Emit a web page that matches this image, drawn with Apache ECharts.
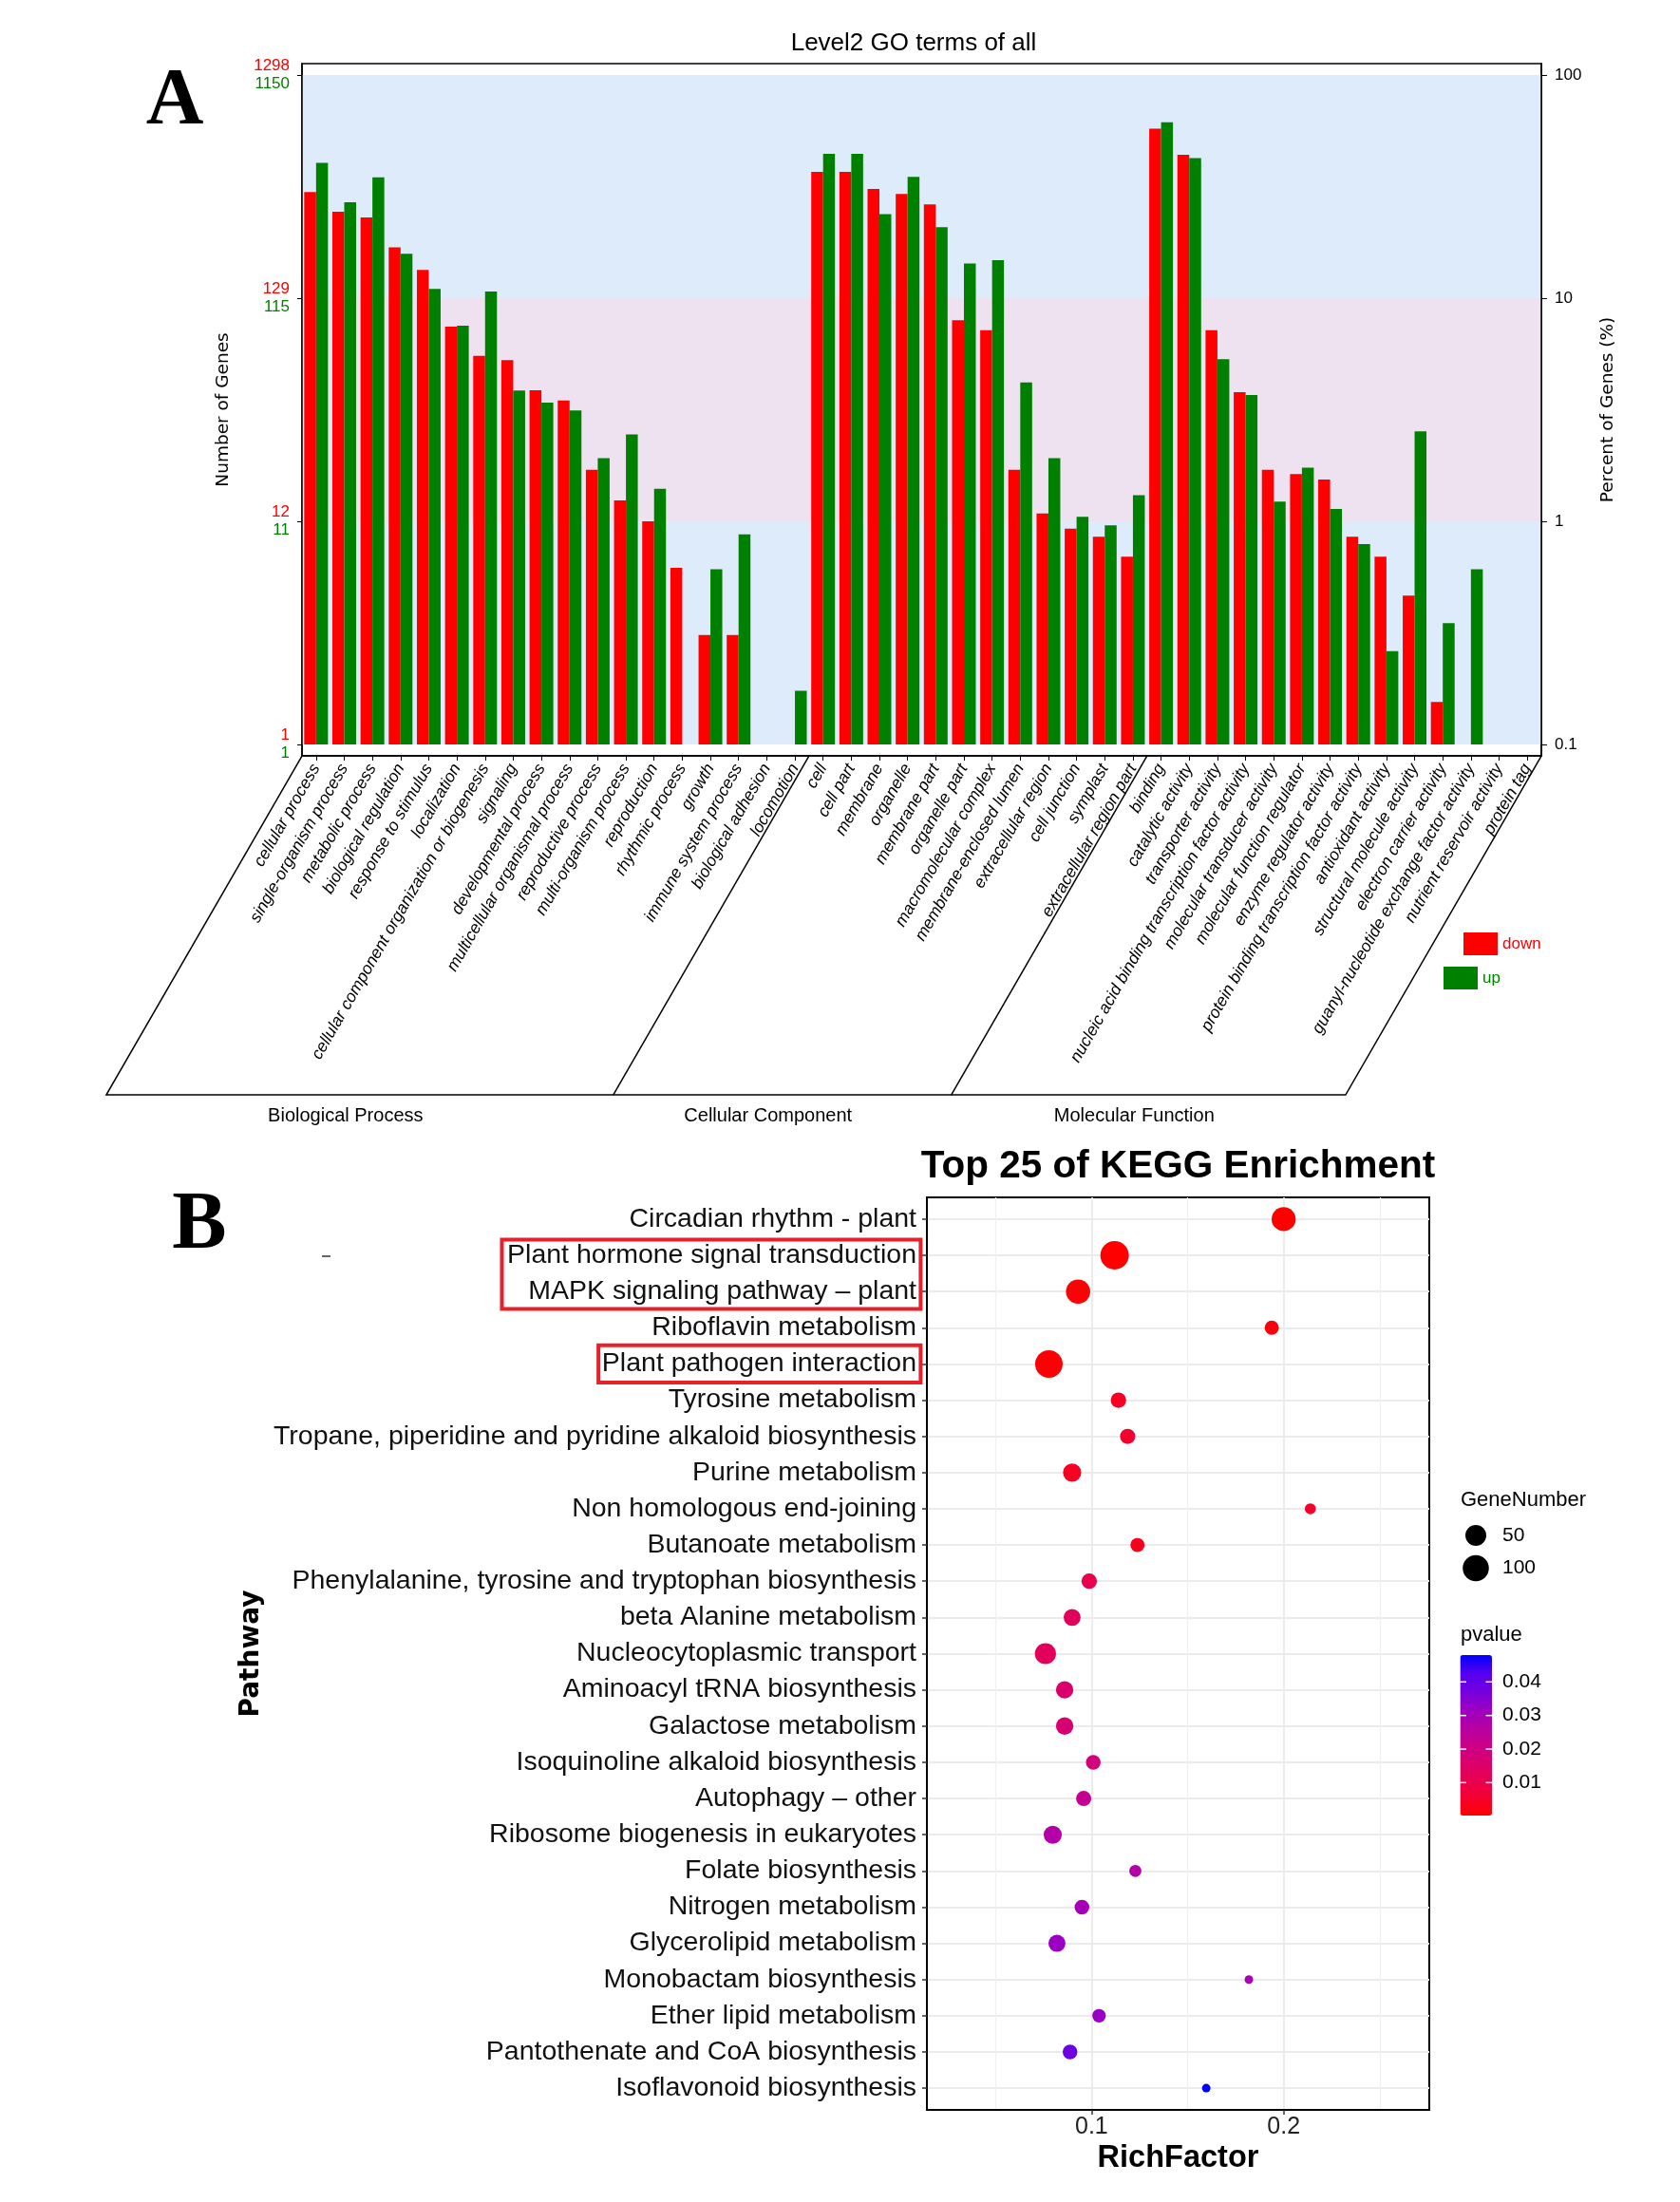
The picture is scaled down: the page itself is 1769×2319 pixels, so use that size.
<!DOCTYPE html>
<html><head><meta charset="utf-8">
<script src="https://cdn.jsdelivr.net/npm/echarts@6/dist/echarts.min.js"></script>
<style>html,body{margin:0;padding:0;background:#fff}#c{width:1769px;height:2319px}</style>
</head><body><div id="c"></div>
<script>
// ---------------- Panel A data (percent of genes) ----------------
const goTerms = ['cellular process','single-organism process','metabolic process','biological regulation','response to stimulus','localization','cellular component organization or biogenesis','signaling','developmental process','multicellular organismal process','reproductive process','multi-organism process','reproduction','rhythmic process','growth','immune system process','biological adhesion','locomotion',
'cell','cell part','membrane','organelle','membrane part','organelle part','macromolecular complex','membrane-enclosed lumen','extracellular region','cell junction','symplast','extracellular region part',
'binding','catalytic activity','transporter activity','nucleic acid binding transcription factor activity','molecular transducer activity','molecular function regulator','enzyme regulator activity','protein binding transcription factor activity','antioxidant activity','structural molecule activity','electron carrier activity','guanyl-nucleotide exchange factor activity','nutrient reservoir activity','protein tag'];
const goDown = [29.9,24.4,23.0,16.9,13.4,7.46,5.51,5.28,3.87,3.48,1.70,1.24,1.00,0.619,0.309,0.309,null,null,
36.8,36.8,30.9,29.3,26.3,7.96,7.19,1.70,1.085,0.927,0.852,0.694,
57.5,43.9,7.19,3.79,1.70,1.63,1.54,0.852,0.694,0.464,0.155,null,null,null];
const goUp = [40.4,26.9,34.8,15.8,11.0,7.53,10.7,3.86,3.40,3.14,1.92,2.45,1.40,null,0.61,0.875,null,0.174,
44.3,44.3,23.8,35.0,20.8,14.3,14.8,4.19,1.92,1.047,0.96,1.31,
61.4,42.4,5.33,3.68,1.225,1.74,1.136,0.79,0.262,2.53,0.350,0.61,null,null];
const goGroups = ['Biological Process','Cellular Component','Molecular Function'];
const goGroupStart = [0,18,30];
const pctTicks = [0.1,1,10,100];
const pctTickLabels = ['0.1','1','10','100'];
const downTickLabels = ['1','12','129','1298'];
const upTickLabels = ['1','11','115','1150'];

// ---------------- Panel B data (KEGG) ----------------
const keggPathways = ['Circadian rhythm - plant','Plant hormone signal transduction','MAPK signaling pathway \u2013 plant','Riboflavin metabolism','Plant pathogen interaction','Tyrosine metabolism','Tropane, piperidine and pyridine alkaloid biosynthesis','Purine metabolism','Non homologous end-joining','Butanoate metabolism','Phenylalanine, tyrosine and tryptophan biosynthesis','beta Alanine metabolism','Nucleocytoplasmic transport','Aminoacyl tRNA biosynthesis','Galactose metabolism','Isoquinoline alkaloid biosynthesis','Autophagy \u2013 other','Ribosome biogenesis in eukaryotes','Folate biosynthesis','Nitrogen metabolism','Glycerolipid metabolism','Monobactam biosynthesis','Ether lipid metabolism','Pantothenate and CoA biosynthesis','Isoflavonoid biosynthesis'];
const keggRichFactor = [0.200,0.112,0.093,0.1938,0.0778,0.114,0.1188,0.0899,0.2139,0.1239,0.0988,0.0899,0.076,0.086,0.086,0.1009,0.0959,0.0798,0.1228,0.095,0.082,0.1819,0.1039,0.0888,0.1597];
const keggGeneNumber = [78,128,80,12,116,17,16,32,4,12,17,24,52,27,27,14,16,31,6,14,25,2,10,14,2];
const keggPvalue = [0.0002,0.0003,0.0008,0.0015,0.0005,0.004,0.005,0.004,0.005,0.003,0.011,0.013,0.013,0.016,0.017,0.019,0.023,0.027,0.027,0.030,0.032,0.029,0.032,0.038,0.048];
const richTicks = [0.1,0.2];
const richMinorTicks = [0.05,0.15,0.25];
const pvalueTicks = [0.01,0.02,0.03,0.04];
const geneLegend = [50,100];
const highlightRows = [[1,2],[4,4]];

// ---------------- styling ----------------
const FS = 'Liberation Sans, Arial, Helvetica, sans-serif';
const DV = 'DejaVu Sans, Verdana, sans-serif';
const RED = '#FF0000', GREEN = '#008000';
const BAND_BLUE = '#DEEBFB', BAND_PINK = '#EEE2F0';
const GRIDC = '#EBEBEB';
const gridA = {left:318, top:67, width:1305, height:729};
const gridB = {left:976, top:1261, width:529, height:961};
const pvalColors = ['#FF0000','#F40031','#E80050','#DA006C','#CA0089','#B500A5','#9A00C3','#7300E0','#5400F0','#0000FF'];
const LABEL_FS = 28.5;

const nMin = Math.min(...keggGeneNumber), nMax = Math.max(...keggGeneNumber);
const sizeOf = n => 9 + 21*Math.sqrt(Math.max(0,(n-nMin))/(nMax-nMin));
const pMin = Math.min(...keggPvalue), pMax = Math.max(...keggPvalue);

function tickIndex(v){ for (let i=0;i<pctTicks.length;i++){ if (Math.abs(Math.log10(v)-Math.log10(pctTicks[i]))<1e-6) return i; } return -1; }

const chart = echarts.init(document.getElementById('c'));

const option = {
  backgroundColor:'#fff',
  animation:false,
  grid:[
    Object.assign({show:true, borderColor:'#000', borderWidth:1.5, backgroundColor:'transparent'}, gridA),
    Object.assign({show:true, borderColor:'#000', borderWidth:2, backgroundColor:'transparent'}, gridB)
  ],
  legend:[
    {data:[{name:'down', textStyle:{color:RED}}], left:1541, top:982, itemWidth:36, itemHeight:24, padding:0, icon:'rect', selectedMode:false, textStyle:{fontFamily:FS, fontSize:17}},
    {data:[{name:'up', textStyle:{color:GREEN}}], left:1520, top:1018, itemWidth:36, itemHeight:24, padding:0, icon:'rect', selectedMode:false, textStyle:{fontFamily:FS, fontSize:17}}
  ],
  xAxis:[
    {type:'category', gridIndex:0, data:goTerms, boundaryGap:true,
     axisLine:{show:true, onZero:false, lineStyle:{color:'#000', width:1.5}},
     axisTick:{show:true, alignWithLabel:true, length:5, lineStyle:{color:'#000'}},
     axisLabel:{interval:0, rotate:60, fontStyle:'italic', fontSize:17.5, fontFamily:FS, color:'#000', margin:10},
     splitLine:{show:false}},
    {type:'value', gridIndex:1, min:0.0143, max:0.2758, position:'bottom',
     axisLine:{show:true, onZero:false, lineStyle:{color:'#000', width:2}},
     axisTick:{show:true, customValues:richTicks, length:5, lineStyle:{color:'#333', width:1.5}},
     axisLabel:{customValues:richTicks, formatter:v=>v.toFixed(1), fontSize:25, fontFamily:FS, color:'#222', margin:6},
     splitLine:{show:false},
     name:'RichFactor', nameLocation:'middle', nameGap:35,
     nameTextStyle:{fontFamily:FS, fontWeight:'bold', fontSize:32.5, color:'#000'}}
  ],
  yAxis:[
    {type:'log', gridIndex:0, position:'left', logBase:10, min:0.0889, max:112.5, startValue:0.1,
     axisLine:{show:true, onZero:false, lineStyle:{color:'#000', width:1.5}},
     axisTick:{show:true, customValues:pctTicks, length:5, lineStyle:{color:'#000'}},
     axisLabel:{customValues:pctTicks, margin:13, formatter:v=>{const i=tickIndex(v); return i<0?'':'{r|'+downTickLabels[i]+'}\n{g|'+upTickLabels[i]+'}';},
       rich:{r:{color:RED, fontSize:17, fontFamily:FS, lineHeight:19, align:'right'}, g:{color:GREEN, fontSize:17, fontFamily:FS, lineHeight:19, align:'right'}}},
     splitLine:{show:false},
     name:'Number of Genes', nameLocation:'middle', nameGap:73,
     nameTextStyle:{fontFamily:DV, fontSize:18.5, color:'#000'}},
    {type:'log', gridIndex:0, position:'right', logBase:10, min:0.0889, max:112.5,
     axisLine:{show:true, onZero:false, lineStyle:{color:'#000', width:1.5}},
     axisTick:{show:true, customValues:pctTicks, length:6, lineStyle:{color:'#000'}},
     axisLabel:{customValues:pctTicks, margin:14, formatter:v=>{const i=tickIndex(v); return i<0?'':pctTickLabels[i];}, fontSize:17, fontFamily:FS, color:'#000'},
     splitLine:{show:false},
     name:'Percent of Genes (%)', nameLocation:'middle', nameGap:61, nameRotate:90,
     nameTextStyle:{fontFamily:DV, fontSize:18.5, color:'#000'}},
    {type:'value', gridIndex:1, inverse:true, min:-0.6, max:keggPathways.length-1+0.6, position:'left',
     axisLine:{show:true, onZero:false, lineStyle:{color:'#000', width:2}},
     axisTick:{show:true, customValues:keggPathways.map((n,i)=>i), length:5, lineStyle:{color:'#333', width:1.5}},
     axisLabel:{customValues:keggPathways.map((n,i)=>i), formatter:v=>keggPathways[Math.round(v)]||'', fontSize:LABEL_FS, fontFamily:FS, color:'#111', margin:11},
     splitLine:{show:false},
     name:'Pathway', nameLocation:'middle', nameGap:697,
     nameTextStyle:{fontFamily:DV, fontWeight:'bold', fontSize:28, color:'#000'}}
  ],
  visualMap:{type:'continuous', seriesIndex:4, dimension:3, min:pMin, max:pMax,
    inRange:{color:pvalColors}, left:1537.5, top:1743, itemWidth:33.5, itemHeight:169,
    calculable:false, padding:0, text:null, orient:'vertical', hoverLink:false},
  series:[
    {type:'line', name:'bands', xAxisIndex:0, yAxisIndex:0, data:[], z:0, silent:true,
     markArea:{silent:true, z:0, data:[
       [{yAxis:0.1, itemStyle:{color:BAND_BLUE}},{yAxis:1}],
       [{yAxis:1, itemStyle:{color:BAND_PINK}},{yAxis:10}],
       [{yAxis:10, itemStyle:{color:BAND_BLUE}},{yAxis:100}]]}},
    {type:'bar', name:'down', xAxisIndex:0, yAxisIndex:0, data:goDown, barWidth:12.5, barGap:'0%', z:3,
     itemStyle:{color:RED}},
    {type:'bar', name:'up', xAxisIndex:0, yAxisIndex:0, data:goUp, barWidth:12.5, barGap:'0%', z:3,
     itemStyle:{color:GREEN}},
    {type:'line', name:'gridlines', xAxisIndex:1, yAxisIndex:2, data:[], z:0, silent:true,
     markLine:{silent:true, z:0, symbol:['none','none'], label:{show:false}, animation:false,
       data:keggPathways.map((n,i)=>({yAxis:i, lineStyle:{color:GRIDC, width:2.2, type:'solid'}}))
         .concat(richTicks.map(v=>({xAxis:v, lineStyle:{color:GRIDC, width:1.8, type:'solid'}})))
         .concat(richMinorTicks.map(v=>({xAxis:v, lineStyle:{color:'#F0F0F0', width:1.3, type:'solid'}})))}},
    {type:'scatter', name:'KEGG', xAxisIndex:1, yAxisIndex:2, z:5,
     data:keggPathways.map((n,i)=>[keggRichFactor[i], i, keggGeneNumber[i], keggPvalue[i]]),
     symbolSize:v=>sizeOf(v[2]), itemStyle:{opacity:1}}
  ]
};
chart.setOption(option);

function buildGraphic(){
  const els = [];
  const T = (x,y,str,st,extra) => Object.assign({type:'text', x:x, y:y, z:100, silent:true,
      style:Object.assign({text:str, align:'center', verticalAlign:'middle', fill:'#000', fontFamily:FS}, st)}, extra||{});
  // panel letters
  els.push(T(184,108,'A',{fontFamily:'Liberation Serif, Times New Roman, serif', fontWeight:'bold', fontSize:84}));
  els.push(T(210,1292,'B',{fontFamily:'Liberation Serif, Times New Roman, serif', fontWeight:'bold', fontSize:86}));
  els.push({type:'line', z:100, silent:true, shape:{x1:339,y1:1323,x2:348,y2:1323}, style:{stroke:'#333', lineWidth:1.5}});
  // titles
  els.push(T(962,46,'Level2 GO terms of all',{fontSize:26}));
  els.push(T(gridB.left+gridB.width/2,1229,'Top 25 of KEGG Enrichment',{fontSize:40.5, fontWeight:'bold'}));
  // GO group parallelograms
  const cx = i => chart.convertToPixel({xAxisIndex:0}, goTerms[i]);
  const bw = cx(1)-cx(0);
  const y0 = gridA.top+gridA.height, D = 357, dx = D/Math.tan(Math.PI/3);
  const bounds = goGroupStart.map(i=> i===0 ? gridA.left : cx(i)-bw/2).concat([gridA.left+gridA.width]);
  els.push({type:'polyline', z:100, silent:true, shape:{points:[[bounds[0],y0],[bounds[0]-dx,y0+D],[bounds[3]-dx,y0+D],[bounds[3],y0]]}, style:{stroke:'#000', lineWidth:1.5, fill:null}});
  [1,2].forEach(k=>els.push({type:'line', z:100, silent:true, shape:{x1:bounds[k],y1:y0,x2:bounds[k]-dx,y2:y0+D}, style:{stroke:'#000', lineWidth:1.5}}));
  goGroups.forEach((g,k)=>{
    const c = ((bounds[k]-dx)+(bounds[k+1]-dx))/2 - 15;
    els.push(T(c, y0+D+22, g, {fontSize:20}));
  });
  // red highlight boxes around pathway labels
  const ctx = document.createElement('canvas').getContext('2d');
  ctx.font = LABEL_FS+'px "Liberation Sans"';
  const cy = i => chart.convertToPixel({yAxisIndex:2}, i);
  const labelRight = gridB.left - 11;
  highlightRows.forEach(([a,b],k)=>{
    let w = 0; for (let i=a;i<=b;i++) w = Math.max(w, ctx.measureText(keggPathways[i]).width);
    const top = cy(a) - (k===0?16.5:19.7), bot = cy(b) + (k===0?18.3:19.7);
    const left = labelRight - w - (k===0?5.6:3.7), right = labelRight + 4.4;
    els.push({type:'rect', z:100, silent:true, shape:{x:left, y:top, width:right-left, height:bot-top}, style:{stroke:'#E8202A', lineWidth:4, fill:null}});
  });
  // GeneNumber size legend
  els.push(T(1538,1580,'GeneNumber',{fontSize:22, align:'left'}));
  geneLegend.forEach((n,k)=>{
    const y = k===0 ? 1617 : 1651.5;
    els.push({type:'circle', z:100, silent:true, shape:{cx:1554, cy:y, r:sizeOf(n)/2}, style:{fill:'#000'}});
    els.push(T(1582, y, String(n), {fontSize:21, align:'left'}));
  });
  // pvalue colourbar labels
  els.push(T(1538,1722,'pvalue',{fontSize:22, align:'left'}));
  const barTop = 1743, barH = 169, barL = 1537.5, barW = 33.5;
  pvalueTicks.forEach(v=>{
    const y = barTop + barH*(1-(v-pMin)/(pMax-pMin));
    els.push({type:'line', z:100, silent:true, shape:{x1:barL,y1:y,x2:barL+6.5,y2:y}, style:{stroke:'#fff', lineWidth:1.5}});
    els.push({type:'line', z:100, silent:true, shape:{x1:barL+barW-6.5,y1:y,x2:barL+barW,y2:y}, style:{stroke:'#fff', lineWidth:1.5}});
    els.push(T(1582, y, v.toFixed(2), {fontSize:21, align:'left'}));
  });
  return els;
}
chart.setOption({graphic:{elements:buildGraphic()}});
</script>
</body></html>
